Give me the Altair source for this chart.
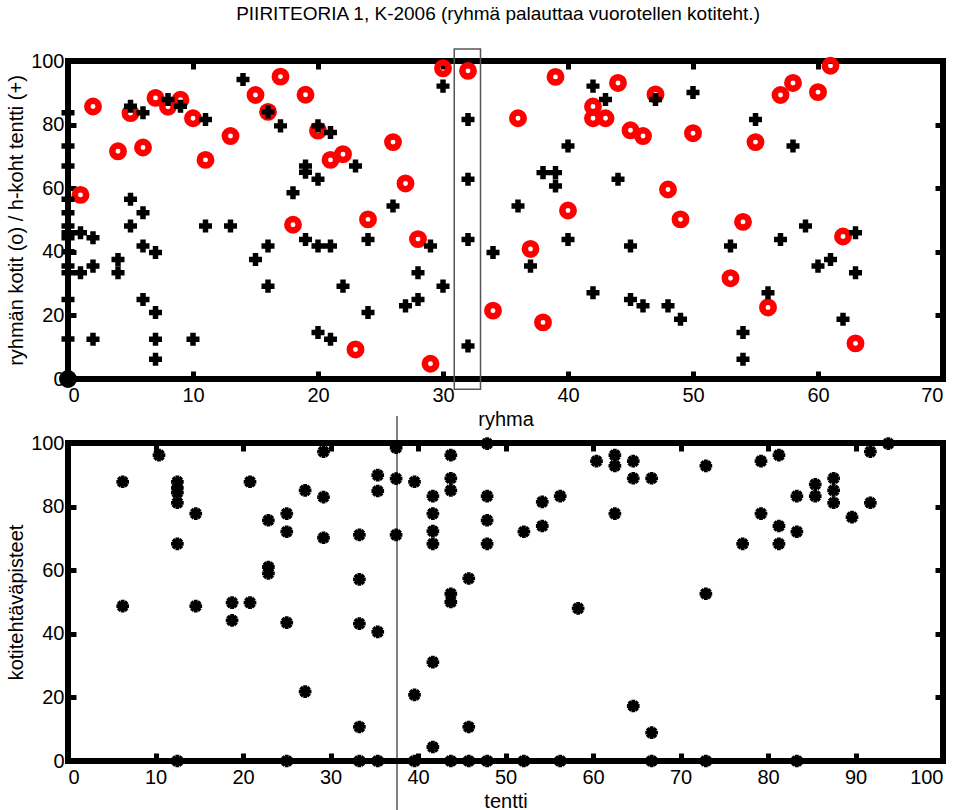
import altair as alt
import pandas as pd

FONT = "Liberation Sans"

# ---------------- top panel data ----------------
ring_group = [1, 2, 4, 5, 6, 7, 8, 9, 10, 11, 13, 15, 16, 17, 18, 19, 20, 21, 22, 23,
              24, 26, 27, 28, 29, 30, 32, 34, 36, 37, 38, 39, 40, 42, 42, 43, 44, 45, 46, 47,
              48, 49, 50, 53, 54, 55, 56, 57, 58, 60, 61, 62, 63]
ring_value = [57.9, 85.7, 71.6, 83.6, 72.8, 88.4, 85.6, 87.8, 82.0, 68.9, 76.4, 89.3, 84.0, 95.1, 48.5, 89.4, 78.1, 68.9, 70.7, 9.3,
              50.2, 74.5, 61.5, 44.0, 4.8, 97.7, 96.9, 21.5, 82.0, 40.9, 17.8, 95.0, 53.0, 85.7, 82.0, 82.0, 93.1, 78.2, 76.4, 89.5,
              59.6, 50.2, 77.3, 31.7, 49.4, 74.5, 22.5, 89.3, 93.1, 90.2, 98.5, 44.8, 11.2]

plus_group = [0, 0, 0, 0, 0, 0, 0, 0, 0, 0, 0, 0, 0,
              1, 1, 2, 2, 2, 4, 4, 5, 5, 5, 6, 6, 6, 6, 7, 7, 7, 7,
              8, 9, 10, 11, 11, 13, 14, 15, 16, 16, 16, 17, 18, 19, 19, 19,
              20, 20, 20, 20, 21, 21, 21, 22, 23, 24, 24, 26, 27, 28, 28, 29, 30, 30,
              32, 32, 32, 32, 34, 36, 37, 38, 39, 39, 40, 40, 42, 42, 43, 44, 45, 45,
              46, 47, 48, 49, 50, 53, 54, 54, 55, 56, 57, 58, 59, 60, 61, 62, 63, 63]
plus_value = [83.7, 73.3, 67.0, 56.5, 52.3, 48.1, 46.0, 44.4, 40.0, 35.5, 33.4, 25.0, 12.6,
              46.0, 33.4, 44.4, 35.5, 12.5, 37.6, 33.4, 85.8, 56.5, 48.1, 83.7, 52.3, 41.8, 25.0, 39.8, 20.9, 12.5, 6.2,
              87.9, 85.8, 12.5, 81.6, 48.1, 48.1, 94.2, 37.6, 84.0, 41.8, 29.2, 79.6, 58.6, 67.0, 65.0, 43.9,
              79.6, 62.8, 41.8, 14.6, 77.5, 41.8, 12.5, 29.2, 67.0, 43.9, 20.9, 54.4, 23.0, 33.4, 25.0, 41.8, 92.1, 29.2,
              81.6, 62.8, 43.9, 10.4, 39.8, 54.4, 35.5, 64.9, 64.9, 60.7, 73.3, 43.9, 92.1, 27.1, 87.9, 62.8, 41.8, 25.0,
              23.0, 87.9, 23.0, 18.8, 90.1, 41.8, 14.6, 6.2, 81.6, 27.1, 43.9, 73.3, 48.1, 35.5, 37.6, 18.8, 46.0, 33.4]

origin_group = [0]
origin_value = [0]

# highlighted group box (ryhma 32)
box_x = [30.9]
box_x2 = [33.0]
box_y = [-3.2]
box_y2 = [103.8]

# ---------------- bottom panel data ----------------
tentti_x = [6.25, 6.25, 10.4,
            12.5, 12.5, 12.5, 12.5, 12.5, 12.5, 14.6, 14.6, 18.75, 18.75, 20.8, 20.8,
            22.9, 22.9, 22.9, 25.0, 25.0, 25.0, 25.0, 27.1, 27.1, 29.2, 29.2, 29.2,
            33.3, 33.3, 33.3, 33.3, 33.3, 35.4, 35.4, 35.4, 35.4, 37.5, 37.5, 37.5,
            39.6, 39.6, 39.6, 41.7, 41.7, 41.7, 41.7, 41.7, 41.7,
            43.75, 43.75, 43.75, 43.75, 43.75, 43.75, 45.8, 45.8, 45.8,
            47.9, 47.9, 47.9, 47.9, 47.9, 52.1, 52.1, 54.2, 54.2, 56.25, 56.25, 58.3, 60.4,
            62.5, 62.5, 62.5, 64.6, 64.6, 64.6, 66.7, 66.7, 66.7, 72.9, 72.9, 72.9, 77.1,
            79.2, 79.2, 81.25, 81.25, 81.25, 83.3, 83.3, 83.3, 85.4, 85.4,
            87.5, 87.5, 87.5, 89.6, 91.7, 91.7, 93.75]
tentti_y = [87.8, 48.7, 96.2,
            87.8, 85.9, 84.4, 81.2, 68.3, 0.0, 77.8, 48.7, 49.8, 44.2, 87.8, 49.8,
            75.7, 61.0, 59.0, 77.8, 72.1, 43.5, 0.0, 85.1, 21.8, 97.3, 83.0, 70.2,
            71.1, 57.1, 43.2, 10.7, 0.0, 89.9, 84.9, 40.6, 0.0, 98.5, 88.8, 71.1,
            87.8, 20.8, 0.0, 83.3, 77.8, 72.3, 68.3, 31.1, 4.4,
            96.2, 88.9, 85.1, 52.6, 50.0, 0.0, 57.4, 10.7, 0.0,
            99.8, 83.3, 75.7, 68.3, 0.0, 72.1, 0.0, 81.5, 73.9, 83.3, 0.0, 48.0, 94.3,
            96.2, 92.8, 77.8, 94.3, 88.9, 17.3, 88.9, 8.9, 0.0, 92.8, 52.6, 0.0, 68.3,
            94.3, 77.8, 96.2, 73.9, 68.3, 83.3, 72.1, 0.0, 87.0, 83.3,
            88.9, 85.1, 81.2, 76.7, 97.3, 81.2, 99.8]

limit_x = [37.6]
limit_y = [-15.7]
limit_y2 = [108.5]

# ---------------- frames ----------------
rings = pd.DataFrame({"ryhma": ring_group, "v": ring_value})
pluses = pd.DataFrame({"ryhma": plus_group, "v": plus_value})
origin = pd.DataFrame({"ryhma": origin_group, "v": origin_value})
box = pd.DataFrame({"x": box_x, "x2": box_x2, "y": box_y, "y2": box_y2})
pts = pd.DataFrame({"tentti": tentti_x, "p": tentti_y})
limit = pd.DataFrame({"x": limit_x, "y": limit_y, "y2": limit_y2})

W, H = 875, 318
TICK = 8
LABEL_FS = 20
TITLE_FS = 20


def plus_path(h):
    return (f"M{-h},-1L{h},-1L{h},{-h}L1,{-h}L1,{h}L{h},{h}L{h},1L{-h},1"
            f"L{-h},{h}L-1,{h}L-1,{-h}L{-h},{-h}Z")


PLUS = plus_path(0.42)
STAR = plus_path(0.3)


def axis(orient, values, title=None, labels=True):
    kw = dict(
        orient=orient, values=values, domain=False, grid=False,
        ticks=True, tickColor="black", tickWidth=5, tickSize=TICK, offset=-TICK,
        labels=labels, labelFont=FONT, labelFontSize=LABEL_FS, labelColor="black",
        labelPadding=6 if orient in ("bottom", "top") else 4,
        titleFont=FONT, titleFontSize=TITLE_FS, titleFontWeight="normal", titleColor="black",
    )
    if title is not None:
        kw["title"] = title
        kw["titlePadding"] = 4
    else:
        kw["title"] = None
    return alt.Axis(**kw)


xs_top = alt.Scale(domain=[0, 70], nice=False, zero=False)
ys = alt.Scale(domain=[0, 100], nice=False, zero=False)
xt_vals = [0, 10, 20, 30, 40, 50, 60, 70]
y_vals = [0, 20, 40, 60, 80, 100]

box_layer = alt.Chart(box).mark_rect(fillOpacity=0, stroke="#555555", strokeWidth=1.5, clip=False).encode(
    x=alt.X("x:Q", scale=xs_top, axis=None), x2="x2:Q",
    y=alt.Y("y:Q", scale=ys, axis=None), y2="y2:Q")

ring_layer = alt.Chart(rings).mark_point(shape="circle", filled=False, size=130, strokeWidth=6.5,
                                          color="#ff0000", opacity=1).encode(
    x=alt.X("ryhma:Q", scale=xs_top, axis=axis("bottom", xt_vals, "ryhma")),
    y=alt.Y("v:Q", scale=ys, axis=axis("left", y_vals, "ryhmän kotit (o) / h-koht tentti (+)")))

plus_layer = alt.Chart(pluses).mark_point(shape=PLUS, filled=True, size=170, color="black", opacity=1).encode(
    x=alt.X("ryhma:Q", scale=xs_top, axis=axis("top", xt_vals, labels=False)),
    y=alt.Y("v:Q", scale=ys, axis=axis("right", y_vals, labels=False)))

origin_layer = alt.Chart(origin).mark_point(shape="circle", filled=False, size=121, strokeWidth=7,
                                             color="black", opacity=1).encode(
    x=alt.X("ryhma:Q", scale=xs_top, axis=None),
    y=alt.Y("v:Q", scale=ys, axis=None))

top = alt.layer(box_layer, ring_layer, plus_layer, origin_layer).resolve_axis(
    x="independent", y="independent").properties(width=W, height=H)

xs_bot = alt.Scale(domain=[0, 100], nice=False, zero=False)
xb_vals = [0, 10, 20, 30, 40, 50, 60, 70, 80, 90, 100]

limit_layer = alt.Chart(limit).mark_rule(color="black", strokeWidth=1, clip=False).encode(
    x=alt.X("x:Q", scale=xs_bot, axis=None),
    y=alt.Y("y:Q", scale=ys, axis=None), y2="y2:Q")

star_a = alt.Chart(pts).mark_point(shape=STAR, filled=True, size=160, color="black", opacity=1).encode(
    x=alt.X("tentti:Q", scale=xs_bot, axis=axis("bottom", xb_vals, "tentti")),
    y=alt.Y("p:Q", scale=ys, axis=axis("left", y_vals, "kotitehtäväpisteet")))

star_b = alt.Chart(pts).mark_point(shape=STAR, filled=True, size=160, angle=45, color="black", opacity=1).encode(
    x=alt.X("tentti:Q", scale=xs_bot, axis=axis("top", xb_vals, labels=False)),
    y=alt.Y("p:Q", scale=ys, axis=axis("right", y_vals, labels=False)))

bottom = alt.layer(limit_layer, star_a, star_b).resolve_axis(
    x="independent", y="independent").properties(width=W, height=H)

chart = alt.vconcat(top, bottom, spacing=64, bounds="flush").properties(
    title=alt.TitleParams("PIIRITEORIA 1, K-2006 (ryhmä palauttaa vuorotellen kotiteht.)",
                          font=FONT, fontSize=19, fontWeight="normal", color="black",
                          anchor="middle", offset=20, dx=22),
    padding={"left": 3, "top": 5, "right": 5, "bottom": 2},
    background="white",
).configure_view(stroke="black", strokeWidth=6).configure_axis(grid=False)

chart.save("out.html", embed_options={"renderer": "svg", "actions": False})
